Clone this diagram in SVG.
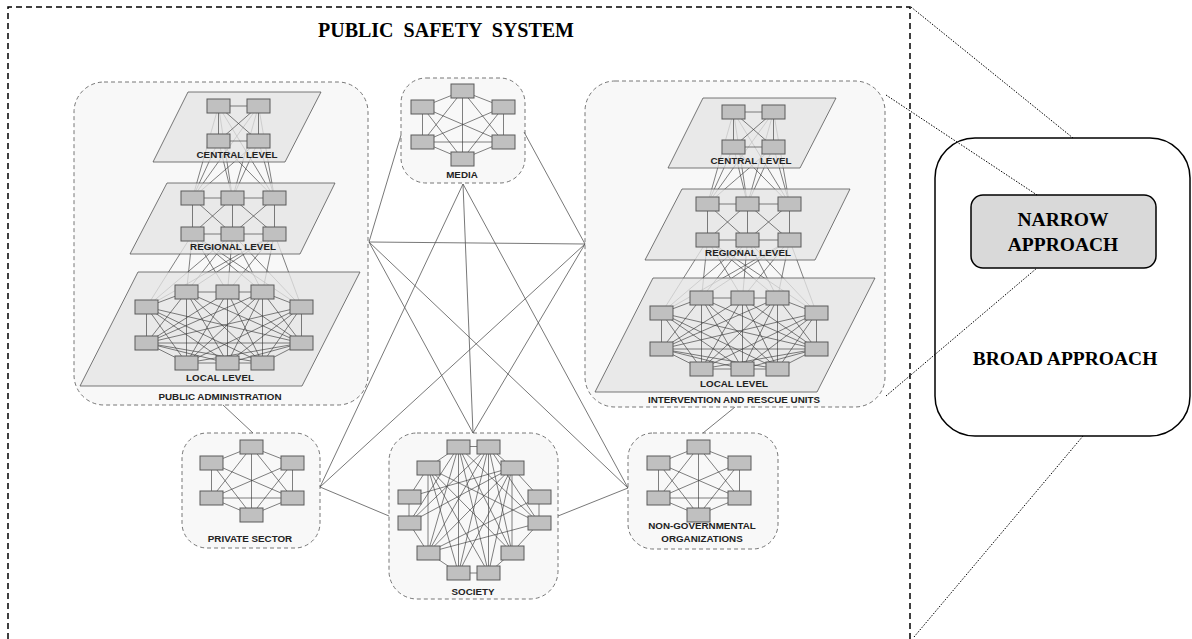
<svg xmlns="http://www.w3.org/2000/svg" xmlns:xlink="http://www.w3.org/1999/xlink" width="1192" height="639" viewBox="0 0 1192 639">
<style>
.grp{fill:#f8f8f8;stroke:#777;stroke-width:1;stroke-dasharray:4 3}
.pl{fill:#e4e4e4;fill-opacity:0.78;stroke:#555;stroke-width:0.8}
.ln{fill:none;stroke:#3c3c3c;stroke-width:0.65}
.cn{fill:none;stroke:#555;stroke-width:0.8}
.b{fill:#c0c0c0;stroke:#5a5a5a;stroke-width:1}
.lb{font-family:"Liberation Sans",Arial,sans-serif;font-weight:bold;font-size:9.8px;fill:#222;text-anchor:middle}
.tt{font-family:"Liberation Serif","Times New Roman",serif;font-weight:bold;fill:#000;text-anchor:middle}
.dot{fill:none;stroke:#000;stroke-width:1;stroke-dasharray:1.5 1.5}
</style>
<defs>
<g id="stack">
<path class="ln" d="M218.5 106L192.5 198M218.5 106L232.5 198M218.5 106L274.5 198M258.5 106L192.5 198M258.5 106L232.5 198M258.5 106L274.5 198M218.5 141L192.5 198M218.5 141L232.5 198M218.5 141L274.5 198M258.5 141L192.5 198M258.5 141L232.5 198M258.5 141L274.5 198M192.5 234L186.5 292M192.5 234L227.5 292M192.5 234L262.5 292M192.5 234L146.5 307M192.5 234L301.5 307M232.5 234L186.5 292M232.5 234L227.5 292M232.5 234L262.5 292M232.5 234L146.5 307M232.5 234L301.5 307M274.5 234L186.5 292M274.5 234L227.5 292M274.5 234L262.5 292M274.5 234L146.5 307M274.5 234L301.5 307"/>
<polygon class="pl" points="188,92 321,92 285,162 153,162"/>
<polygon class="pl" points="167,183 335,183 300,254 130,254"/>
<polygon class="pl" points="138,272 360,272 302,386 80,386"/>
<path class="ln" d="M218.5 106L258.5 106M218.5 141L258.5 141M218.5 106L218.5 141M258.5 106L258.5 141M218.5 106L258.5 141M258.5 106L218.5 141M192.5 198L274.5 198M192.5 234L274.5 234M192.5 198L192.5 234M232.5 198L232.5 234M274.5 198L274.5 234M192.5 198L232.5 234M232.5 198L192.5 234M232.5 198L274.5 234M274.5 198L232.5 234M186.5 292L227.5 292M186.5 292L146.5 307M186.5 292L146.5 343M186.5 292L301.5 343M186.5 292L186.5 363M186.5 292L227.5 363M186.5 292L262.5 363M227.5 292L262.5 292M227.5 292L146.5 343M227.5 292L301.5 343M227.5 292L186.5 363M227.5 292L227.5 363M227.5 292L262.5 363M262.5 292L301.5 307M262.5 292L146.5 343M262.5 292L301.5 343M262.5 292L186.5 363M262.5 292L227.5 363M262.5 292L262.5 363M146.5 307L146.5 343M146.5 307L301.5 343M146.5 307L186.5 363M146.5 307L227.5 363M146.5 307L262.5 363M301.5 307L146.5 343M301.5 307L301.5 343M301.5 307L186.5 363M301.5 307L227.5 363M301.5 307L262.5 363M146.5 343L301.5 343M146.5 343L186.5 363M146.5 343L227.5 363M146.5 343L262.5 363M301.5 343L186.5 363M301.5 343L227.5 363M301.5 343L262.5 363M186.5 363L227.5 363M227.5 363L262.5 363"/>
<rect class="b" x="207" y="99" width="23" height="14"/><rect class="b" x="247" y="99" width="23" height="14"/>
<rect class="b" x="207" y="134" width="23" height="14"/><rect class="b" x="247" y="134" width="23" height="14"/>
<rect class="b" x="181" y="191" width="23" height="14"/><rect class="b" x="221" y="191" width="23" height="14"/><rect class="b" x="263" y="191" width="23" height="14"/>
<rect class="b" x="181" y="227" width="23" height="14"/><rect class="b" x="221" y="227" width="23" height="14"/><rect class="b" x="263" y="227" width="23" height="14"/>
<rect class="b" x="175" y="285" width="23" height="14"/><rect class="b" x="216" y="285" width="23" height="14"/><rect class="b" x="251" y="285" width="23" height="14"/>
<rect class="b" x="135" y="300" width="23" height="14"/><rect class="b" x="290" y="300" width="23" height="14"/>
<rect class="b" x="135" y="336" width="23" height="14"/><rect class="b" x="290" y="336" width="23" height="14"/>
<rect class="b" x="175" y="356" width="23" height="14"/><rect class="b" x="216" y="356" width="23" height="14"/><rect class="b" x="251" y="356" width="23" height="14"/>
</g>
<g id="k6">
<path class="ln" d="M11.5 7L-28.5 23M11.5 7L52.5 23M11.5 7L-28.5 58M11.5 7L52.5 58M11.5 7L11.5 75M-28.5 23L-28.5 58M-28.5 23L52.5 58M-28.5 23L11.5 75M52.5 23L-28.5 58M52.5 23L52.5 58M52.5 23L11.5 75M-28.5 58L52.5 58M-28.5 58L11.5 75M52.5 58L11.5 75"/>
<rect class="b" x="0" y="0" width="23" height="14"/>
<rect class="b" x="-40" y="16" width="23" height="14"/><rect class="b" x="41" y="16" width="23" height="14"/>
<rect class="b" x="-40" y="51" width="23" height="14"/><rect class="b" x="41" y="51" width="23" height="14"/>
<rect class="b" x="0" y="68" width="23" height="14"/>
</g>
</defs>

<g id="frame">
<path d="M8 639V7H910V639" fill="none" stroke="#000" stroke-width="1.5" stroke-dasharray="6 4"/>
<text class="tt" x="446" y="37" font-size="20" xml:space="preserve">PUBLIC  SAFETY  SYSTEM</text>
</g>

<g id="public-administration">
<rect class="grp" x="74" y="82" width="294" height="323" rx="30"/>
<use xlink:href="#stack"/>
<text class="lb" x="237" y="158">CENTRAL LEVEL</text>
<text class="lb" x="233" y="250">REGIONAL LEVEL</text>
<text class="lb" x="220" y="381">LOCAL LEVEL</text>
<text class="lb" x="220" y="400">PUBLIC ADMINISTRATION</text>
</g>

<g id="intervention-rescue">
<rect class="grp" x="585" y="81" width="300" height="326" rx="30"/>
<use xlink:href="#stack" transform="translate(515,6)"/>
<text class="lb" x="751" y="164">CENTRAL LEVEL</text>
<text class="lb" x="748" y="256">REGIONAL LEVEL</text>
<text class="lb" x="734" y="387">LOCAL LEVEL</text>
<text class="lb" x="734" y="403">INTERVENTION AND RESCUE UNITS</text>
</g>

<g id="media">
<rect class="grp" x="401" y="78" width="124" height="105" rx="25"/>
<use xlink:href="#k6" transform="translate(451,84)"/>
<text class="lb" x="462" y="178">MEDIA</text>
</g>

<g id="private-sector">
<rect class="grp" x="182" y="433" width="138" height="115" rx="25"/>
<use xlink:href="#k6" transform="translate(240,440)"/>
<text class="lb" x="250" y="542">PRIVATE SECTOR</text>
</g>

<g id="ngo">
<rect class="grp" x="628" y="433" width="150" height="116" rx="25"/>
<use xlink:href="#k6" transform="translate(687,440)"/>
<text class="lb" x="702" y="529">NON-GOVERNMENTAL</text>
<text class="lb" x="702" y="542">ORGANIZATIONS</text>
</g>

<g id="society">
<rect class="grp" x="389" y="433" width="169" height="166" rx="28"/>
<path class="ln" d="M458.5 446.5L488.5 446.5M458.5 446.5L428 467.5M428 467.5L409 497M409 497L409 523M409 523L428 552.5M428 552.5L458.5 573M458.5 573L488.5 573M488.5 573L512 552.5M512 552.5L539 523M539 523L539 497M539 497L512 467.5M512 467.5L488.5 446.5M458.5 446.5L458.5 573M458.5 446.5L488.5 573M458.5 446.5L428 552.5M458.5 446.5L512 552.5M458.5 446.5L539 523M458.5 446.5L409 523M488.5 446.5L458.5 573M488.5 446.5L488.5 573M488.5 446.5L428 552.5M488.5 446.5L512 552.5M488.5 446.5L409 523M488.5 446.5L539 523M512 467.5L428 552.5M512 467.5L409 523M512 467.5L409 497M512 467.5L458.5 573M512 467.5L488.5 573M512 467.5L512 552.5M428 467.5L428 552.5M428 467.5L512 552.5M428 467.5L488.5 573M428 467.5L539 523M428 467.5L458.5 573M428 552.5L539 497M428 552.5L539 523"/>
<rect class="b" x="447" y="440" width="23" height="14"/><rect class="b" x="477" y="440" width="23" height="14"/>
<rect class="b" x="417" y="461" width="23" height="14"/><rect class="b" x="501" y="461" width="23" height="14"/>
<rect class="b" x="398" y="490" width="23" height="14"/><rect class="b" x="528" y="490" width="23" height="14"/>
<rect class="b" x="398" y="516" width="23" height="14"/><rect class="b" x="528" y="516" width="23" height="14"/>
<rect class="b" x="417" y="546" width="23" height="14"/><rect class="b" x="501" y="546" width="23" height="14"/>
<rect class="b" x="447" y="566" width="23" height="14"/><rect class="b" x="477" y="566" width="23" height="14"/>
<text class="lb" x="473" y="595">SOCIETY</text>
</g>

<g id="broad-approach">
<rect x="935" y="138" width="255" height="298" rx="40" fill="#fff" stroke="#000" stroke-width="1.5"/>
<text class="tt" x="1065" y="365" font-size="19.5">BROAD APPROACH</text>
</g>

<g id="narrow-approach">
<rect x="971" y="195" width="185" height="73" rx="12" fill="#d9d9d9" stroke="#000" stroke-width="1.5"/>
<text class="tt" x="1063" y="226" font-size="19.5">NARROW</text>
<text class="tt" x="1063" y="251" font-size="19.5">APPROACH</text>
</g>

<g id="connectors">
<path class="cn" d="M369 242L401 135M369 242L585 244M369 242L473 433M369 242L628 488M585 244L524 132M585 244L473 433M585 244L320 487M463 184L320 487M463 184L473 433M463 184L628 488M320 487L389 516M558 516L628 488M223 405L253 433M735 407L703 433"/>
<path class="dot" d="M911 7L1073 138M886 95L1037 195M886 396L1037 268M914 637L1083 436"/>
</g>
</svg>
